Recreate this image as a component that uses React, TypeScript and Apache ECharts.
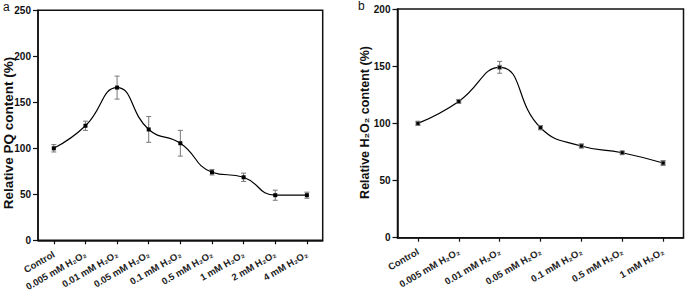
import React, { useEffect, useRef } from "react";
import * as echarts from "echarts";

const catsA = ["Control", "0.005 mM H₂O₂", "0.01 mM H₂O₂", "0.05 mM H₂O₂", "0.1 mM H₂O₂", "0.5 mM H₂O₂", "1 mM H₂O₂", "2 mM H₂O₂", "4 mM H₂O₂"];
const pqMean = [100, 124.5, 166, 120.5, 105.5, 74, 68.5, 49, 49];
const pqErr = [4, 5, 12.5, 14, 14, 3, 4.5, 5.5, 3.3];

const catsB = ["Control", "0.005 mM H₂O₂", "0.01 mM H₂O₂", "0.05 mM H₂O₂", "0.1 mM H₂O₂", "0.5 mM H₂O₂", "1 mM H₂O₂"];
const h2o2Mean = [100, 119.2, 149, 96.2, 80.2, 74.3, 65.3];
const h2o2Err = [1.8, 1.5, 5.2, 1.8, 1.8, 1.2, 2.2];

const FONT = "'Liberation Sans', Arial, sans-serif";

function errData(mean: number[], err: number[]) {
  return mean.map((m, i) => [i, m + err[i], m - err[i]]);
}

function errRender(params: any, api: any) {
  const idx = api.value(0);
  const hi = api.coord([idx, api.value(1)]);
  const lo = api.coord([idx, api.value(2)]);
  const w = 2.5;
  const style = { stroke: "#777", lineWidth: 1 };
  return {
    type: "group",
    children: [
      { type: "line", shape: { x1: hi[0], y1: hi[1], x2: lo[0], y2: lo[1] }, style },
      { type: "line", shape: { x1: hi[0] - w, y1: hi[1], x2: hi[0] + w, y2: hi[1] }, style },
      { type: "line", shape: { x1: lo[0] - w, y1: lo[1], x2: lo[0] + w, y2: lo[1] }, style },
    ],
  };
}

export default function App() {
  const ref = useRef<HTMLDivElement>(null);
  useEffect(() => {
    document.body.style.margin = "0";
    const chart = echarts.init(ref.current!, null, { renderer: "svg" });
    const axisLine = { show: true, lineStyle: { color: "#111", width: 1.5 } };
    const xAxisBase = {
      type: "category",
      boundaryGap: true,
      axisLine,
      axisTick: { show: true, alignWithLabel: true, length: 4, lineStyle: { color: "#111", width: 1.2 } },
      axisLabel: { rotate: 30, fontSize: 9.5, fontWeight: "bold", color: "#222", fontFamily: FONT, margin: 13, interval: 0 },
      splitLine: { show: false },
    };
    const yAxisBase = {
      type: "value",
      min: 0,
      interval: 50,
      axisLine,
      axisTick: { show: true, length: 5, lineStyle: { color: "#111", width: 1.2 } },
      axisLabel: { fontSize: 10, fontWeight: "bold", color: "#111", fontFamily: FONT, margin: 7 },
      splitLine: { show: false },
    };
    const nameStyle = { fontWeight: "bold", fill: "#111", fontFamily: FONT, align: "center", verticalAlign: "middle" };
    chart.setOption({
      animation: false,
      grid: [
        { left: 38, top: 10.3, right: 362.3, bottom: 51.7, show: true, borderColor: "#111", borderWidth: 1.5, containLabel: false, outerBoundsMode: "none" },
        { left: 397.5, top: 9, right: 1.5, bottom: 54.3, show: true, borderColor: "#111", borderWidth: 1.5, containLabel: false, outerBoundsMode: "none" },
      ],
      xAxis: [
        { ...xAxisBase, gridIndex: 0, data: catsA },
        { ...xAxisBase, gridIndex: 1, data: catsB },
      ],
      yAxis: [
        { ...yAxisBase, gridIndex: 0, max: 250 },
        { ...yAxisBase, gridIndex: 1, max: 200 },
      ],
      graphic: [
        { type: "text", left: 3, top: 1, style: { text: "a", fontSize: 12, fontFamily: FONT, fill: "#111" } },
        { type: "text", left: 358, top: 0, style: { text: "b", fontSize: 12, fontFamily: FONT, fill: "#111" } },
        { type: "text", x: 8.5, y: 133, rotation: Math.PI / 2, style: { ...nameStyle, text: "Relative PQ content (%)", fontSize: 13.5 } },
        { type: "text", x: 365, y: 122.5, rotation: Math.PI / 2, style: { ...nameStyle, text: "Relative H₂O₂ content (%)", fontSize: 12.5 } },
      ],
      series: [
        {
          type: "custom",
          xAxisIndex: 0,
          yAxisIndex: 0,
          renderItem: errRender,
          encode: { x: 0, y: [1, 2] },
          data: errData(pqMean, pqErr),
          z: 1,
        },
        {
          type: "line",
          xAxisIndex: 0,
          yAxisIndex: 0,
          data: pqMean,
          smooth: 0.5,
          symbol: "rect",
          symbolSize: 4,
          itemStyle: { color: "#000" },
          lineStyle: { color: "#000", width: 1.2 },
          z: 2,
        },
        {
          type: "custom",
          xAxisIndex: 1,
          yAxisIndex: 1,
          renderItem: errRender,
          encode: { x: 0, y: [1, 2] },
          data: errData(h2o2Mean, h2o2Err),
          z: 1,
        },
        {
          type: "line",
          xAxisIndex: 1,
          yAxisIndex: 1,
          data: h2o2Mean,
          smooth: 0.5,
          symbol: "rect",
          symbolSize: 4,
          itemStyle: { color: "#000", borderColor: "#888", borderWidth: 0.8 },
          lineStyle: { color: "#000", width: 1.2 },
          z: 2,
        },
      ],
    });
    return () => chart.dispose();
  }, []);
  return <div ref={ref} style={{ width: 685, height: 292 }} />;
}
